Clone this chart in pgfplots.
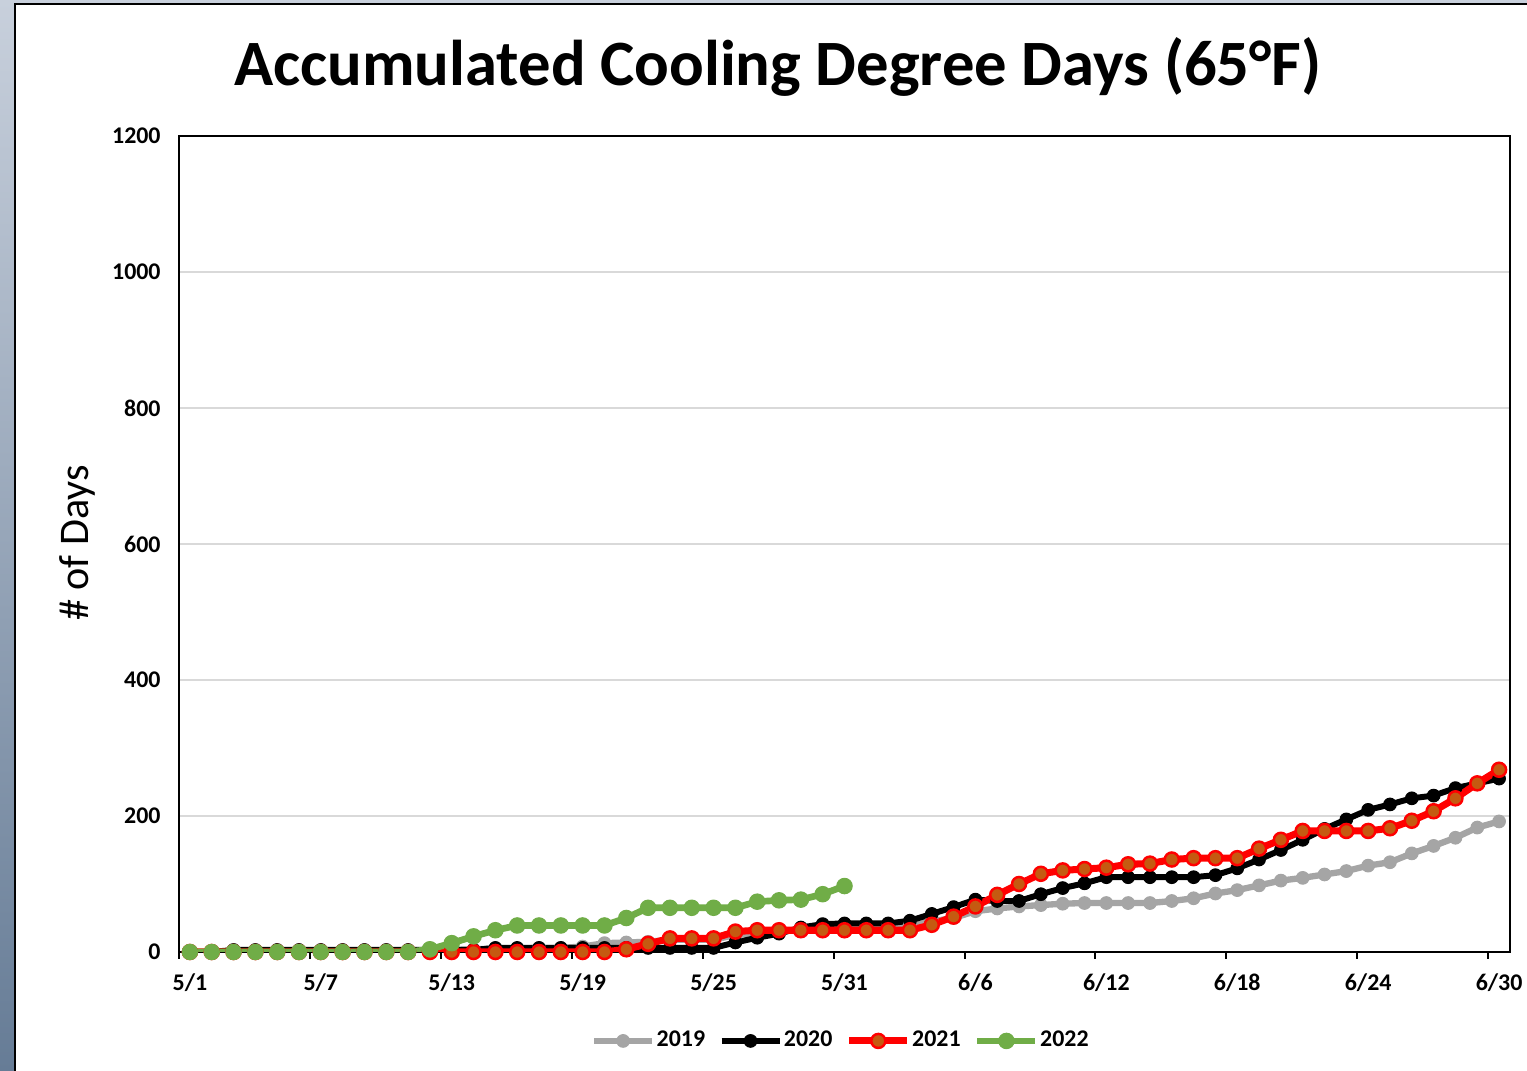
\documentclass[border=0pt]{standalone}
\usepackage{fontspec}
\setmainfont{Carlito}
\usepackage{pgfplots}
\pgfplotsset{compat=1.18}
\definecolor{cA}{HTML}{A5A5A5}
\definecolor{cG}{HTML}{70AD47}
\definecolor{cR}{HTML}{FF0000}
\definecolor{cRf}{HTML}{C55A11}
\definecolor{cgrid}{HTML}{D9D9D9}
\definecolor{bgtop}{HTML}{C8D0DC}
\definecolor{bgmid}{HTML}{98A9BC}
\definecolor{bgbot}{HTML}{667C96}
\begin{document}
\begin{tikzpicture}
\useasboundingbox (0,0) rectangle (152.7mm,107.1mm);
\shade[top color=bgtop, middle color=bgmid, bottom color=bgbot] (0,0) rectangle (152.7mm,107.1mm);
\draw[black, line width=0.2mm, fill=white] (1.5mm,-2mm) rectangle (156mm,106.65mm);
\node[font=\bfseries\fontsize{18.4pt}{22pt}\selectfont] at (77.8mm,100.4mm) {Accumulated Cooling Degree Days (65°F)};
\node[rotate=90, font=\fontsize{12pt}{14pt}\selectfont] at (7.7mm,52.8mm) {\# of Days};
\begin{axis}[
  at={(17.9mm,11.9mm)}, anchor=south west,
  scale only axis, width=133.1mm, height=81.6mm,
  xmin=-0.5, xmax=60.5, ymin=0, ymax=1200,
  xtick pos=bottom, ytick pos=left,
  xtick={0,6,...,60},
  xticklabels={5/1,5/7,5/13,5/19,5/25,5/31,6/6,6/12,6/18,6/24,6/30},
  ytick={0,200,...,1200},
  extra x ticks={-0.5,5.5,...,59.5},
  extra x tick labels={},
  extra x tick style={major tick length=0.7mm, tick align=outside, tick style={black, line width=0.2mm}},
  major tick length=0,
  ymajorgrids, grid style={cgrid, line width=0.2mm},
  axis line style={black, line width=0.2mm},
  /pgf/number format/assume math mode=true,
  /pgf/number format/1000 sep={},
  ticklabel style={font=\bfseries\fontsize{6.8pt}{8pt}\selectfont},
  yticklabel style={xshift=-0.6mm},
  xticklabel style={yshift=-0.9mm},
  legend columns=4,
  legend style={at={(0.497,-0.109)}, anchor=center, draw=none, fill=none,
    font=\bfseries\fontsize{6.8pt}{8pt}\selectfont,
    /tikz/every even column/.append style={column sep=1.2mm},
    nodes={inner xsep=0.4pt, inner ysep=1pt}},
  legend image code/.code={\draw[mark repeat=2,mark phase=2,#1] plot coordinates {(0mm,0mm) (2.9mm,0mm) (5.8mm,0mm)};},
]
\addplot[cA, line width=1.8pt, mark=*, mark size=1.8pt, mark options={fill=cA, draw=cA, line width=0.3pt}] coordinates {
(0,0)(1,0)(2,0)(3,0)(4,0)(5,0)(6,0)(7,0)(8,0)(9,0)(10,0)(11,2)(12,3)(13,4)(14,5)(15,5)(16,6)(17,6)(18,8)(19,13)(20,14)
(21,15)(22,18)(23,18)(24,18)(25,25)(26,28)(27,30)(28,33)(29,35)(30,37)(31,38)(32,39)(33,41)(34,45)(35,50)(36,60)(37,64)(38,67)(39,69)(40,71)
(41,72)(42,72)(43,72)(44,72)(45,75)(46,79)(47,86)(48,91)(49,98)(50,105)(51,109)(52,114)(53,119)(54,127)(55,132)(56,145)(57,156)(58,168)(59,183)(60,192)
};
\addlegendentry{2019}
\addplot[black, line width=1.7pt, mark=*, mark size=1.8pt, mark options={fill=black, draw=black, line width=0.3pt}] coordinates {
(0,0)(1,0)(2,3)(3,3)(4,3)(5,3)(6,3)(7,3)(8,3)(9,3)(10,3)(11,3)(12,3)(13,3)(14,6)(15,6)(16,6)(17,6)(18,6)(19,6)(20,6)
(21,6)(22,6)(23,6)(24,6)(25,14)(26,21)(27,27)(28,36)(29,41)(30,42)(31,42)(32,42)(33,46)(34,56)(35,66)(36,77)(37,75)(38,75)(39,85)(40,94)
(41,101)(42,110)(43,110)(44,110)(45,110)(46,110)(47,113)(48,123)(49,136)(50,150)(51,165)(52,181)(53,195)(54,209)(55,217)(56,226)(57,230)(58,241)(59,248)(60,255)
};
\addlegendentry{2020}
\addplot[cR, line width=2.0pt, mark=*, mark size=2.0pt, mark options={fill=cRf, draw=cR, line width=0.7pt}] coordinates {
(0,0)(1,0)(2,0)(3,0)(4,0)(5,0)(6,0)(7,0)(8,0)(9,0)(10,0)(11,0)(12,0)(13,0)(14,0)(15,0)(16,0)(17,0)(18,0)(19,0)(20,4)
(21,12)(22,20)(23,20)(24,20)(25,30)(26,32)(27,32)(28,32)(29,32)(30,32)(31,32)(32,32)(33,32)(34,40)(35,52)(36,67)(37,84)(38,100)(39,115)(40,120)
(41,122)(42,124)(43,129)(44,130)(45,136)(46,138)(47,138)(48,138)(49,152)(50,165)(51,178)(52,178)(53,178)(54,178)(55,182)(56,193)(57,207)(58,226)(59,248)(60,268)
};
\addlegendentry{2021}
\addplot[cG, line width=1.9pt, mark=*, mark size=2.2pt, mark options={fill=cG, draw=cG, line width=0.3pt}] coordinates {
(0,0)(1,0)(2,0)(3,0)(4,0)(5,0)(6,0)(7,0)(8,0)(9,0)(10,0)(11,4)(12,13)(13,23)(14,32)(15,39)(16,39)(17,39)(18,39)(19,39)(20,50)
(21,65)(22,65)(23,65)(24,65)(25,65)(26,74)(27,76)(28,77)(29,85)(30,97)
};
\addlegendentry{2022}
\end{axis}
\end{tikzpicture}
\end{document}
